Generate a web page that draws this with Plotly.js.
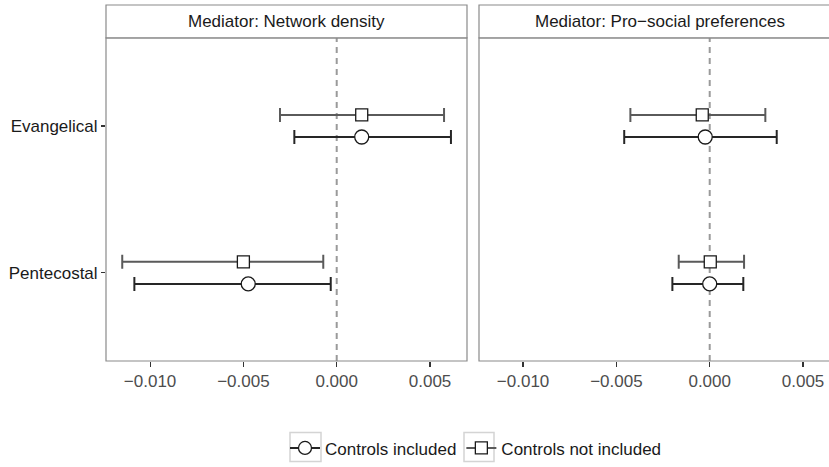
<!DOCTYPE html>
<html>
<head>
<meta charset="utf-8">
<script src="https://cdn.plot.ly/plotly-3.0.1.min.js"></script>
<style>html,body{margin:0;padding:0;background:#fff;}#chart{width:829px;height:467px;}</style>
</head>
<body>
<div id="chart"></div>
<script>
// ---- data ----
const categories = ['Evangelical', 'Pentecostal'];
const mediators = ['Mediator: Network density', 'Mediator: Pro\u2212social preferences'];
const seriesNames = ['Controls included', 'Controls not included'];

// Controls included (circle)  [Evangelical, Pentecostal]
const incEstNet = [0.00134, -0.00474];
const incLoNet  = [-0.00227, -0.01084];
const incHiNet  = [0.00612, -0.00032];
const incEstPro = [-0.00024, 0.00000];
const incLoPro  = [-0.00458, -0.00200];
const incHiPro  = [0.00359, 0.00180];

// Controls not included (square)
const notEstNet = [0.00134, -0.00500];
const notLoNet  = [-0.00304, -0.01149];
const notHiNet  = [0.00575, -0.00072];
const notEstPro = [-0.00040, 0.00003];
const notLoPro  = [-0.00425, -0.00166];
const notHiPro  = [0.00298, 0.00184];

const xTickVals = [-0.010, -0.005, 0.000, 0.005];
const xTickText = ['\u22120.010', '\u22120.005', '0.000', '0.005'];
const refLine = 0;

// ---- layout geometry ----
const W = 829, H = 467;
const mL = 106, mR = 0, mT = 5, mB = 104;
const plotW = W - mL - mR, plotH = H - mT - mB;
const panelW = 361;
const p2Left = 479;
const stripH = 33;
const xRange = [-0.01236, 0.00698];
const x2Range = [xRange[0], xRange[0] + (xRange[1] - xRange[0]) * (W - p2Left) / panelW];
const yTop = (plotH - stripH) / plotH;
const dodge = 0.075;

const FONT = 'Liberation Sans, Arial, Helvetica, sans-serif';
const catPos = categories.map((c, i) => categories.length - i); // Evangelical top

function mk(est, lo, hi, sym, size, col, xa, ya, offset) {
  return {
    type: 'scatter', mode: 'markers',
    x: est, y: catPos.map(p => p + offset),
    xaxis: xa, yaxis: ya,
    showlegend: false, hoverinfo: 'skip',
    error_x: {
      type: 'data', symmetric: false,
      array: hi.map((h, i) => h - est[i]),
      arrayminus: lo.map((l, i) => est[i] - l),
      color: col, thickness: 2, width: 7
    },
    marker: { symbol: sym, size: size, color: '#ffffff', line: { color: '#1a1a1a', width: 1.3 } }
  };
}

const colInc = '#262626', colNot = '#5a5a5a';
const traces = [
  mk(notEstNet, notLoNet, notHiNet, 'square', 12, colNot, 'x', 'y', dodge),
  mk(incEstNet, incLoNet, incHiNet, 'circle', 14, colInc, 'x', 'y', -dodge),
  mk(notEstPro, notLoPro, notHiPro, 'square', 12, colNot, 'x2', 'y2', dodge),
  mk(incEstPro, incLoPro, incHiPro, 'circle', 14, colInc, 'x2', 'y2', -dodge),
  // legend entries
  { type: 'scatter', mode: 'lines+markers', x: [null], y: [null], name: seriesNames[0],
    line: { color: colInc, width: 2 },
    marker: { symbol: 'circle', size: 13, color: '#ffffff', line: { color: '#1a1a1a', width: 1.3 } } },
  { type: 'scatter', mode: 'lines+markers', x: [null], y: [null], name: seriesNames[1],
    line: { color: colNot, width: 2 },
    marker: { symbol: 'square', size: 12, color: '#ffffff', line: { color: '#1a1a1a', width: 1.3 } } }
];

const px = v => (v - mL) / plotW;
const py = v => (mT + plotH - v) / plotH;
const p1x0 = 0, p1x1 = panelW / plotW;
const p2x0 = px(p2Left), p2x1 = px(p2Left + panelW);
const borderCol = '#8a8a8a';

const shapes = [];
[[p1x0, p1x1], [p2x0, p2x1]].forEach(([a, b]) => {
  shapes.push({ type: 'rect', xref: 'paper', yref: 'paper', x0: a, x1: b, y0: 0, y1: yTop,
    line: { color: borderCol, width: 1.2 }, fillcolor: 'rgba(0,0,0,0)', layer: 'above' });
  shapes.push({ type: 'rect', xref: 'paper', yref: 'paper', x0: a, x1: b, y0: yTop, y1: 1,
    line: { color: borderCol, width: 1.2 }, fillcolor: '#ffffff', layer: 'above' });
});
['x', 'x2'].forEach((xr, i) => {
  shapes.push({ type: 'line', xref: xr, yref: (i === 0 ? 'y' : 'y2') + ' domain',
    x0: refLine, x1: refLine, y0: 0, y1: 1,
    line: { color: '#9a9a9a', width: 2, dash: '6px,5px' }, layer: 'below' });
});
// legend key boxes (ggplot-style)
[[290, 321], [464, 494]].forEach(([a, b]) => {
  shapes.push({ type: 'rect', xref: 'paper', yref: 'paper', x0: px(a), x1: px(b), y0: py(464), y1: py(435),
    line: { color: '#d4d4d4', width: 1.5 }, fillcolor: 'rgba(0,0,0,0)', layer: 'above' });
});

const annotations = mediators.map((m, i) => ({
  xref: 'paper', yref: 'paper',
  x: i === 0 ? (p1x0 + p1x1) / 2 : (p2x0 + p2x1) / 2,
  y: (yTop + 1) / 2, text: m, showarrow: false,
  xanchor: 'center', yanchor: 'middle',
  font: { family: FONT, size: 17, color: '#1a1a1a' }
}));

const xaxisBase = {
  range: xRange, tickvals: xTickVals, ticktext: xTickText,
  ticks: 'outside', ticklen: 5, tickwidth: 1.1, tickcolor: '#333333',
  showgrid: false, zeroline: false, showline: false,
  tickfont: { family: FONT, size: 17, color: '#4d4d4d' },
  fixedrange: true
};
const yaxisBase = {
  range: [0.4, 2.6], domain: [0, yTop],
  tickvals: catPos, ticktext: categories,
  showgrid: false, zeroline: false, showline: false, fixedrange: true
};

const layout = {
  width: W, height: H,
  margin: { l: mL, r: mR, t: mT, b: mB },
  paper_bgcolor: '#ffffff', plot_bgcolor: '#ffffff',
  font: { family: FONT, size: 17, color: '#1a1a1a' },
  xaxis: Object.assign({}, xaxisBase, { domain: [p1x0, p1x1], anchor: 'y' }),
  xaxis2: Object.assign({}, xaxisBase, { domain: [p2x0, 1], range: x2Range, anchor: 'y2' }),
  yaxis: Object.assign({}, yaxisBase, { anchor: 'x', ticks: 'outside', ticklen: 4, tickwidth: 1.1,
    tickcolor: '#333333', tickfont: { family: FONT, size: 17, color: '#1a1a1a' } }),
  yaxis2: Object.assign({}, yaxisBase, { anchor: 'x2', showticklabels: false, ticks: '' }),
  shapes: shapes,
  annotations: annotations,
  showlegend: true,
  legend: {
    orientation: 'h', x: px(476), xanchor: 'center', y: -0.195, yanchor: 'top',
    font: { family: FONT, size: 17, color: '#1a1a1a' },
    itemwidth: 30, traceorder: 'normal', bgcolor: 'rgba(0,0,0,0)'
  }
};

Plotly.newPlot('chart', traces, layout, { displayModeBar: false, staticPlot: true });
</script>
</body>
</html>
